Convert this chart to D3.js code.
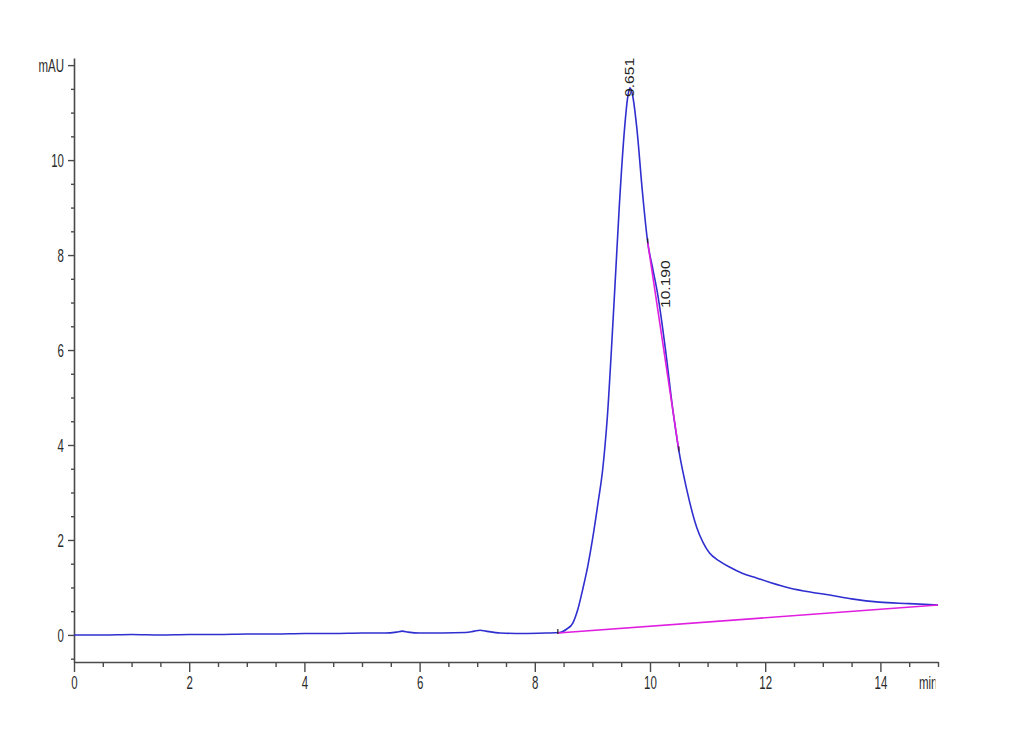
<!DOCTYPE html>
<html>
<head>
<meta charset="utf-8">
<script src="https://cdn.jsdelivr.net/npm/d3@7/dist/d3.min.js"></script>
<style>
  html, body { margin: 0; padding: 0; background: #ffffff; }
  svg { display: block; }
</style>
</head>
<body>
<script>
// ---- data ----
const timeMin = [0, 0.5, 1, 1.5, 2, 2.5, 3, 3.5, 4, 4.5, 5, 5.4, 5.6, 5.7, 5.8, 6.0, 6.4, 6.8, 6.95, 7.05, 7.15, 7.4, 7.8, 8.2, 8.43, 8.55, 8.66, 8.75, 8.83, 8.92, 9.0, 9.1, 9.18, 9.22, 9.26, 9.33, 9.40, 9.47, 9.56, 9.61, 9.651, 9.70, 9.77, 9.87, 9.96, 10.05, 10.13, 10.27, 10.39, 10.50, 10.64, 10.81, 10.92, 11.03, 11.2, 11.38, 11.6, 11.85, 12.1, 12.42, 12.8, 13.12, 13.5, 13.98, 14.5, 15.0];
const signalMAU = [0, 0.0, 0.01, 0.0, 0.01, 0.01, 0.02, 0.02, 0.03, 0.03, 0.04, 0.04, 0.06, 0.08, 0.06, 0.04, 0.04, 0.05, 0.08, 0.1, 0.08, 0.04, 0.03, 0.04, 0.05, 0.12, 0.25, 0.55, 0.95, 1.45, 2.0, 2.8, 3.5, 4.0, 4.6, 6.0, 7.54, 9.09, 10.69, 11.3, 11.52, 11.35, 10.69, 9.31, 8.27, 7.7, 7.2, 6.0, 4.8, 3.89, 3.05, 2.27, 1.95, 1.73, 1.56, 1.43, 1.3, 1.2, 1.1, 0.99, 0.9, 0.84, 0.76, 0.69, 0.66, 0.63];

// integration baseline and tangent (magenta)
const baselineT = [8.4, 15.0];
const baselineV = [0.04, 0.63];
const tangentT = [9.96, 10.50];
const tangentV = [8.27, 3.89];

// peak labels
const peakLabels = [
  { text: "9.651", t: 9.651, v: 11.52 },
  { text: "10.190", t: 10.19, v: 7.05 }
];

const xMajorTicks = [0, 2, 4, 6, 8, 10, 12, 14];
const yMajorTicks = [0, 2, 4, 6, 8, 10, 12];
const yUnitLabel = "mAU";
const xUnitLabel = "min";

// ---- drawing ----
const W = 1030, H = 755;
const svg = d3.select("body").append("svg").attr("width", W).attr("height", H);

const x = d3.scaleLinear().domain([0, 15]).range([74, 938]);
const y = d3.scaleLinear().domain([-0.57, 12.15]).range([662, 58]);

const axisColor = "#4a4a4a";
const textColor = "#2a2a2a";
const fontFam = "'Liberation Sans', Arial, sans-serif";

// clip for plot content
svg.append("clipPath").attr("id", "plotclip")
  .append("rect").attr("x", 74).attr("y", 40).attr("width", 866).attr("height", 622);

// Y axis minor ticks
const yMinor = d3.range(-0.5, 12.01, 0.5).filter(v => Math.abs(v % 2) > 1e-6);
const gyMinor = svg.append("g").attr("transform", "translate(74,0)")
  .call(d3.axisLeft(y).tickValues(yMinor).tickSize(3).tickFormat(""));
gyMinor.select(".domain").remove();

// Y axis major
const gy = svg.append("g").attr("transform", "translate(74,0)")
  .call(d3.axisLeft(y).tickValues(yMajorTicks).tickSize(6).tickSizeOuter(0)
    .tickFormat(d => d === 12 ? yUnitLabel : d));

// X axis minor
const xMinor = d3.range(0.5, 15.01, 0.5).filter(v => Math.abs(v % 2) > 1e-6);
const gxMinor = svg.append("g").attr("transform", "translate(0,662)")
  .call(d3.axisBottom(x).tickValues(xMinor).tickSize(5).tickFormat(""));
gxMinor.select(".domain").remove();

// X axis major
const gx = svg.append("g").attr("transform", "translate(0,662)")
  .call(d3.axisBottom(x).tickValues(xMajorTicks).tickSize(10).tickSizeOuter(0));

[gy, gx, gyMinor, gxMinor].forEach(g => {
  g.selectAll("line").attr("stroke", axisColor).attr("stroke-width", 1.4);
  g.selectAll(".domain").attr("stroke", axisColor).attr("stroke-width", 1.6);
});

gy.selectAll("text")
  .attr("x", null).attr("dy", null)
  .attr("fill", textColor)
  .style("font-family", fontFam).style("font-size", "14px")
  .attr("text-anchor", "end")
  .attr("transform", "translate(-10,0) scale(0.82,1.25) translate(0,5)");

gx.selectAll("text")
  .attr("y", null).attr("dy", null)
  .attr("fill", textColor)
  .style("font-family", fontFam).style("font-size", "14px")
  .attr("text-anchor", "middle")
  .attr("transform", "translate(0,27) scale(0.82,1.25)");

// x unit label, clipped at the axis end like the reference
svg.append("clipPath").attr("id", "unitclip")
  .append("rect").attr("x", 900).attr("y", 665).attr("width", 35.5).attr("height", 40);
svg.append("g").attr("clip-path", "url(#unitclip)")
  .append("text")
  .attr("fill", textColor)
  .style("font-family", fontFam).style("font-size", "14px")
  .attr("transform", "translate(919,689) scale(0.82,1.25)")
  .text(xUnitLabel);

const plot = svg.append("g").attr("clip-path", "url(#plotclip)");

// signal trace
const pts = timeMin.map((t, i) => [t, signalMAU[i]]);
const line = d3.line().x(d => x(d[0])).y(d => y(d[1])).curve(d3.curveMonotoneX);
plot.append("path").datum(pts)
  .attr("d", line)
  .attr("fill", "none")
  .attr("stroke", "#2f2fd0")
  .attr("stroke-width", 1.6)
  .attr("stroke-linejoin", "round");

// integration baseline
const straight = d3.line().x(d => x(d[0])).y(d => y(d[1]));
plot.append("path").datum(baselineT.map((t, i) => [t, baselineV[i]]))
  .attr("d", straight).attr("fill", "none")
  .attr("stroke", "#e01ee0").attr("stroke-width", 1.6);

// tangent skim line
plot.append("path").datum(tangentT.map((t, i) => [t, tangentV[i]]))
  .attr("d", straight).attr("fill", "none")
  .attr("stroke", "#e01ee0").attr("stroke-width", 1.6);

// small integration markers
const markers = [[baselineT[0], baselineV[0]], [tangentT[0], tangentV[0]], [tangentT[1], tangentV[1]]];
plot.selectAll(".mk").data(markers).enter().append("line")
  .attr("x1", d => x(d[0])).attr("x2", d => x(d[0]))
  .attr("y1", d => y(d[1]) - 4).attr("y2", d => y(d[1]) + 1)
  .attr("stroke", "#222").attr("stroke-width", 1.2);

// peak labels (rotated)
svg.selectAll(".pk").data(peakLabels).enter().append("text")
  .attr("fill", "#222")
  .style("font-family", fontFam).style("font-size", "13px")
  .attr("transform", (d, i) => {
    const px = i === 0 ? x(d.t) + 4.5 : x(d.t) + 9;
    const py = i === 0 ? y(d.v) + 9 : 308;
    return `translate(${px},${py}) scale(1,1.2) rotate(-90)`;
  })
  .text(d => d.text);
</script>
</body>
</html>
